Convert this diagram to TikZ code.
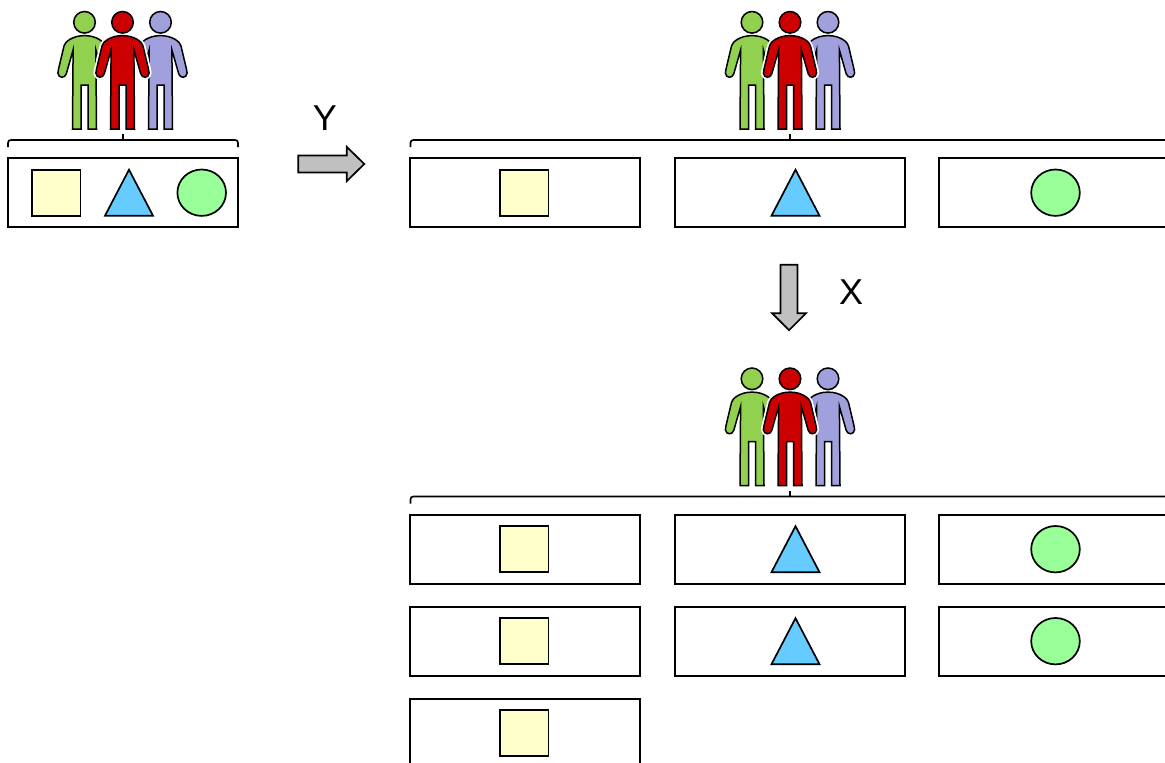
\documentclass[tikz,border=0pt]{standalone}
\usepackage{fontspec}
\setmainfont{Liberation Sans}
\definecolor{pgreen}{HTML}{92D050}
\definecolor{pred}{HTML}{CC0000}
\definecolor{pblue}{HTML}{A0A0DC}
\definecolor{syellow}{HTML}{FFFFCC}
\definecolor{ssky}{HTML}{66CCFF}
\definecolor{smint}{HTML}{99FF99}
\definecolor{agray}{HTML}{C0C0C0}
\newcommand{\personbody}{
  (-11.4,50) -- (-18.2,73.8) .. controls (-19.5,78.5) and (-26,78.5) .. (-26.6,73.2)
  .. controls (-26.8,71.7) and (-26.6,70.7) .. (-26,69.2) -- (-20.5,46)
  .. controls (-19.8,42) and (-12,35.6) .. (0,35.6)
  .. controls (12,35.6) and (19.8,42) .. (20.5,46)
  -- (26,69.2) .. controls (26.6,70.7) and (26.8,71.7) .. (26.6,73.2)
  .. controls (26,78.5) and (19.5,78.5) .. (18.2,73.8) -- (11.4,50)
  -- (12,129) -- (3.5,129) -- (3.5,85.2) -- (-3.5,85.2) -- (-3.5,129)
  -- (-12,129) -- cycle
}
\tikzset{
  x=1pt,y=-1pt,
  outline/.style={draw=black,line width=1.7pt,line join=miter},
  boxnode/.style={outline,fill=white,rectangle,minimum width=230pt,minimum height=69pt,inner sep=0pt,outer sep=0pt},
  bracket/.style={draw=black,line width=1.7pt},
  blockarrow/.style={outline,fill=agray},
  lab/.style={font=\fontsize{36}{36}\selectfont,inner sep=0pt},
  person/.pic={
    \draw[white,line width=5pt,line join=round,fill=white] \personbody;
    \draw[black,line width=1.5pt,fill=personfill] \personbody;
    \draw[black,line width=1.5pt,fill=personfill] (0,22.3) circle[radius=10.8];
  },
  people/.pic={
    \colorlet{personfill}{pgreen}
    \pic at (-38,0) {person};
    \colorlet{personfill}{pblue}
    \pic at (38,0) {person};
    \fill[white] (-11.4,50) -- (-22,78) -- (-22,84) -- (-11.4,84) -- cycle;
    \fill[white] (11.4,50) -- (22,78) -- (22,84) -- (11.4,84) -- cycle;
    \colorlet{personfill}{pred}
    \pic at (0,0) {person};
  },
  squareshape/.pic={\draw[outline,fill=syellow] (-24.3,-23) rectangle (24.3,23);},
  triangleshape/.pic={\draw[outline,fill=ssky] (0,-23) -- (24,23) -- (-24,23) -- cycle;},
  circleshape/.pic={\draw[outline,fill=smint] (0,0) ellipse[x radius=24.3,y radius=23.2];},
}
\newcommand{\bracketline}[4]{% left, right, y, tick x
  \draw[bracket] (#1,#3+7) -- (#1,#3+3) .. controls (#1,#3+1) and (#1+1,#3) .. (#1+3,#3)
    -- (#2-3,#3) .. controls (#2-1,#3) and (#2,#3+1) .. (#2,#3+3) -- (#2,#3+7);
  \draw[bracket] (#4,#3) -- (#4,#3-6);
}
\begin{document}
\begin{tikzpicture}
\useasboundingbox (0,0) rectangle (1165,763);
\clip (0,0) rectangle (1165,763);
% left group
\pic at (122.5,0) {people};
\bracketline{8}{238}{140}{123}
\node[boxnode] (b0) at (123,192.8) {};
\pic at (56.3,192.7) {squareshape};
\pic at (129,192.7) {triangleshape};
\pic at (201.7,192.7) {circleshape};
% Y arrow
\draw[blockarrow] (298.3,155.5) -- (346.7,155.5) -- (346.7,146.8) -- (364.3,164) -- (346.7,181.2) -- (346.7,172.5) -- (298.3,172.5) -- cycle;
\node[lab] (ylab) at (325,118) {Y};
% top right group
\pic at (790,0) {people};
\bracketline{410.5}{1175}{140}{790}
\node[boxnode] (b1) at (525,192.8) {};
\node[boxnode] (b2) at (790,192.8) {};
\node[boxnode] (b3) at (1054,192.8) {};
\pic at (524.3,192.7) {squareshape};
\pic at (795.5,192.7) {triangleshape};
\pic at (1055.5,192.7) {circleshape};
% X arrow
\draw[blockarrow] (780.5,264.8) -- (797.5,264.8) -- (797.5,313.2) -- (806,313.2) -- (789,330.2) -- (772,313.2) -- (780.5,313.2) -- cycle;
\node[lab] (xlab) at (851,292) {X};
% bottom group
\pic at (790,356.5) {people};
\bracketline{410.5}{1175}{496.5}{790}
\node[boxnode] (c1) at (525,549.3) {};
\node[boxnode] (c2) at (790,549.3) {};
\node[boxnode] (c3) at (1054,549.3) {};
\node[boxnode] (d1) at (525,641.3) {};
\node[boxnode] (d2) at (790,641.3) {};
\node[boxnode] (d3) at (1054,641.3) {};
\node[boxnode] (e1) at (525,733.3) {};
\pic at (524.3,549.2) {squareshape};
\pic at (795.5,549.2) {triangleshape};
\pic at (1055.5,549.2) {circleshape};
\pic at (524.3,641.2) {squareshape};
\pic at (795.5,641.2) {triangleshape};
\pic at (1055.5,641.2) {circleshape};
\pic at (524.3,733.2) {squareshape};
\end{tikzpicture}
\end{document}
